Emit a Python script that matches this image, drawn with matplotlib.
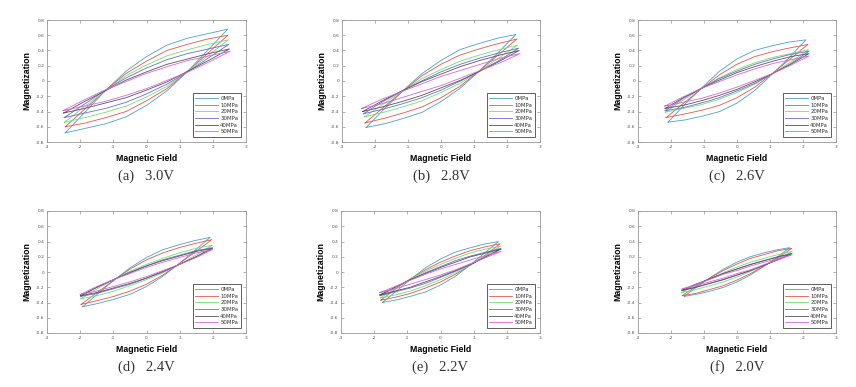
import numpy as np
import matplotlib
matplotlib.use('Agg')
import matplotlib.pyplot as plt

# stress levels (legend) and colours
stress_labels = ['0MPa', '10MPa', '20MPa', '30MPa', '40MPa', '50MPa']
colors = ['#4f9ec9', '#e0574f', '#74de74', '#6d6dcc', '#555555', '#d866d8']

# fraction of the loop tip field at which the upper branch is read
frac = [-1, -0.75, -0.5, -0.25, 0, 0.25, 0.5, 0.75, 1]

titles = ['(a)   3.0V', '(b)   2.8V', '(c)   2.6V', '(d)   2.4V', '(e)   2.2V', '(f)   2.0V']

# tip field of each loop (0..50MPa) per panel
tip_a = [2.45, 2.45, 2.47, 2.48, 2.50, 2.52]
tip_b = [2.27, 2.30, 2.32, 2.35, 2.37, 2.40]
tip_c = [2.09, 2.15, 2.17, 2.18, 2.18, 2.19]
tip_d = [1.92, 1.97, 1.98, 1.99, 1.99, 2.00]
tip_e = [1.75, 1.80, 1.81, 1.82, 1.83, 1.83]
tip_f = [1.60, 1.66, 1.67, 1.67, 1.66, 1.67]

# upper branch magnetization read at frac * tip (lower branch is the mirror)
upper_a = [[-0.68, -0.40, -0.12, 0.13, 0.32, 0.47, 0.56, 0.62, 0.68],
           [-0.60, -0.36, -0.12, 0.10, 0.26, 0.40, 0.48, 0.55, 0.60],
           [-0.54, -0.33, -0.13, 0.07, 0.21, 0.33, 0.41, 0.48, 0.54],
           [-0.48, -0.30, -0.12, 0.04, 0.17, 0.28, 0.36, 0.42, 0.48],
           [-0.42, -0.27, -0.13, 0.01, 0.12, 0.22, 0.29, 0.36, 0.42],
           [-0.39, -0.25, -0.12, -0.01, 0.10, 0.19, 0.27, 0.33, 0.39]]
upper_b = [[-0.61, -0.36, -0.12, 0.10, 0.27, 0.41, 0.49, 0.56, 0.61],
           [-0.55, -0.34, -0.13, 0.07, 0.22, 0.34, 0.42, 0.49, 0.55],
           [-0.47, -0.30, -0.13, 0.03, 0.15, 0.26, 0.34, 0.41, 0.47],
           [-0.43, -0.27, -0.13, 0.00, 0.12, 0.22, 0.30, 0.37, 0.43],
           [-0.40, -0.26, -0.13, -0.01, 0.09, 0.19, 0.27, 0.34, 0.40],
           [-0.36, -0.24, -0.14, -0.04, 0.06, 0.14, 0.22, 0.30, 0.36]]
upper_c = [[-0.54, -0.30, -0.08, 0.13, 0.29, 0.40, 0.46, 0.51, 0.54],
           [-0.48, -0.29, -0.10, 0.08, 0.22, 0.32, 0.385, 0.435, 0.48],
           [-0.41, -0.25, -0.10, 0.04, 0.15, 0.24, 0.31, 0.36, 0.41],
           [-0.39, -0.23, -0.10, 0.03, 0.13, 0.22, 0.29, 0.35, 0.39],
           [-0.36, -0.22, -0.10, 0.01, 0.11, 0.19, 0.26, 0.32, 0.36],
           [-0.33, -0.21, -0.10, -0.01, 0.08, 0.16, 0.23, 0.28, 0.33]]
upper_d = [[-0.455, -0.275, -0.10, 0.06, 0.19, 0.29, 0.355, 0.41, 0.455],
           [-0.425, -0.265, -0.11, 0.04, 0.16, 0.25, 0.32, 0.375, 0.425],
           [-0.35, -0.22, -0.10, 0.01, 0.10, 0.18, 0.25, 0.31, 0.35],
           [-0.32, -0.20, -0.10, 0.00, 0.08, 0.16, 0.22, 0.28, 0.32],
           [-0.31, -0.20, -0.10, -0.01, 0.08, 0.15, 0.21, 0.27, 0.31],
           [-0.295, -0.19, -0.10, -0.02, 0.06, 0.13, 0.19, 0.25, 0.295]]
upper_e = [[-0.40, -0.245, -0.085, 0.06, 0.17, 0.26, 0.315, 0.365, 0.40],
           [-0.37, -0.22, -0.09, 0.03, 0.13, 0.21, 0.28, 0.33, 0.37],
           [-0.34, -0.21, -0.09, 0.01, 0.10, 0.18, 0.25, 0.30, 0.34],
           [-0.31, -0.20, -0.10, -0.01, 0.07, 0.15, 0.21, 0.26, 0.31],
           [-0.30, -0.20, -0.10, -0.02, 0.06, 0.13, 0.20, 0.25, 0.30],
           [-0.27, -0.19, -0.11, -0.03, 0.04, 0.10, 0.16, 0.22, 0.27]]
upper_f = [[-0.32, -0.19, -0.07, 0.04, 0.13, 0.20, 0.25, 0.29, 0.32],
           [-0.31, -0.19, -0.08, 0.02, 0.105, 0.18, 0.23, 0.28, 0.31],
           [-0.27, -0.17, -0.09, -0.01, 0.065, 0.13, 0.18, 0.23, 0.27],
           [-0.245, -0.17, -0.09, -0.02, 0.04, 0.10, 0.15, 0.20, 0.245],
           [-0.24, -0.16, -0.09, -0.02, 0.04, 0.10, 0.15, 0.20, 0.24],
           [-0.225, -0.16, -0.10, -0.03, 0.02, 0.08, 0.13, 0.18, 0.225]]

tips = [tip_a, tip_b, tip_c, tip_d, tip_e, tip_f]
uppers = [upper_a, upper_b, upper_c, upper_d, upper_e, upper_f]

xticks = [-3, -2, -1, 0, 1, 2, 3]
yticks = [-0.8, -0.6, -0.4, -0.2, 0, 0.2, 0.4, 0.6, 0.8]
yticklabels = ['-0.8', '-0.6', '-0.4', '-0.2', '0', '0.2', '0.4', '0.6', '0.8']

W, H = 856, 387
fig = plt.figure(figsize=(W / 100, H / 100), dpi=100)

# axes boxes in pixels: left, top, width, height
boxes = [(47, 20, 199, 122), (342, 20, 198, 122), (638, 20, 198, 122),
         (47, 211, 199, 122), (341, 211, 199, 122), (638, 211, 198, 122)]

for i in range(6):
    l, t, w, h = boxes[i]
    ax = fig.add_axes([l / W, 1 - (t + h) / H, w / W, h / H])
    for j in range(6):
        hx = np.array(frac) * tips[i][j]
        up = np.array(uppers[i][j])
        # upper branch left->right, then mirrored lower branch back
        ax.plot(np.concatenate([hx, -hx]), np.concatenate([up, -up]),
                color=colors[j], lw=0.6, label=stress_labels[j])

    ax.set_xlim(-3, 3)
    ax.set_ylim(-0.8, 0.8)
    ax.set_xticks(xticks)
    ax.set_xticklabels([str(x) for x in xticks])
    ax.set_yticks(yticks)
    ax.set_yticklabels(yticklabels)
    ax.tick_params(direction='in', length=2, width=0.4, labelsize=3.2,
                   labelcolor='#555555', color='#777777', pad=2,
                   top=True, right=True)
    for s in ax.spines.values():
        s.set_color('#999999')
        s.set_linewidth(0.6)

    ax.set_xlabel('Magnetic Field', fontsize=6.3, fontweight='bold',
                  family='Liberation Sans')
    ax.set_ylabel('Magnetization', fontsize=6.3, fontweight='bold',
                  family='Liberation Sans')
    ax.xaxis.set_label_coords(0.5, -12 / h)
    ax.yaxis.set_label_coords(-16 / w, 0.5)

    leg = ax.legend(loc='lower right', fontsize=3.9, handlelength=4.2,
                    labelspacing=0.3, borderpad=0.5, handletextpad=0.4,
                    fancybox=False, framealpha=1, borderaxespad=0.95)
    leg.get_frame().set_edgecolor('#444444')
    leg.get_frame().set_linewidth(0.6)
    for txt in leg.get_texts():
        txt.set_color('#333333')

    ax.text(0.5, -34 / h, titles[i], transform=ax.transAxes, ha='center',
            va='center', fontsize=10.5, family='Liberation Serif', color='#333333')

fig.savefig('out.png', dpi=100)
